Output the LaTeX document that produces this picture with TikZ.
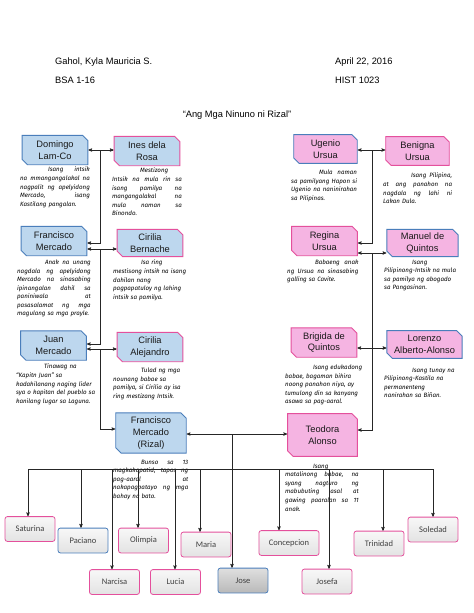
\documentclass[tikz,border=0pt]{standalone}
\usepackage{fontspec}
\setmainfont{Liberation Sans}
\newfontfamily\notefont{Fira Sans}
\newfontfamily\kidfont{Carlito}
\usetikzlibrary{arrows, positioning, shapes.misc}
\definecolor{boxblue}{RGB}{189,215,238}
\definecolor{lineblue}{RGB}{74,126,187}
\definecolor{boxpink}{RGB}{245,180,226}
\definecolor{linepink}{RGB}{228,80,156}
\newlength{\notew}
\tikzset{>=stealth',
    head/.style={font=\fontsize{12}{14}\selectfont, inner sep=0pt},
    person/.style={chamfered rectangle, chamfered rectangle corners={north east,south west},
        chamfered rectangle xsep=3.5pt, chamfered rectangle ysep=3.5pt, inner sep=0pt,
        line width=1.2pt, align=center, minimum width=85pt, minimum height=38pt,
        font=\fontsize{12}{15}\selectfont, text=black!90},
    bluebox/.style={person, fill=boxblue, draw=lineblue},
    pinkbox/.style={person, fill=boxpink, draw=linepink},
    pinkline/.style={draw=linepink},
    blueline/.style={draw=lineblue},
    note/.style={anchor=north west, inner sep=0pt, text=black, align=left,
        text width=#1, execute at begin node={\setlength{\notew}{#1}},
        font=\notefont\itshape\fontsize{8}{11}\selectfont},
    note/.default=120pt,
    kid/.style={rectangle, rounded corners=3pt, line width=1pt, draw=linepink,
        top color=gray!6, bottom color=gray!22, minimum width=64.5pt, minimum height=32pt,
        font=\kidfont\fontsize{11}{13}\selectfont, text=black!75},
    link/.style={line width=0.8pt, black!85}}
\newcommand{\ind}{\hspace*{36pt}}
\newcommand{\jl}[1]{{\spaceskip=0pt\xspaceskip=0pt\makebox[\notew][s]{#1}}}

\begin{document}
\begin{tikzpicture}[x=1.291pt,y=-1.291pt]
\fill[white] (0,0) rectangle (474,613);
\useasboundingbox (0,0) rectangle (474,613);

% header
\node[head, anchor=west] (student) at (55,62) {Gahol, Kyla Mauricia S.};
\node[head, anchor=west] (course)  at (55,80) {BSA 1-16};
\node[head, anchor=west] (date)    at (335,62) {April 22, 2016};
\node[head, anchor=west] (subject) at (335,80) {HIST 1023};
\node[head] (title) at (237,115) {“Ang Mga Ninuno ni Rizal”};

% father's side
\node[bluebox] (dom) at (55,150) {Domingo\\Lam-Co};
\node[bluebox, pinkline] (ines) at (147,151) {Ines dela\\Rosa};
\node[bluebox] (fran) at (54,241) {Francisco\\Mercado};
\node[bluebox, pinkline, minimum height=35pt] (ciriB) at (150,243) {Cirilia\\Bernache};
\node[bluebox] (juan) at (53.5,345.5) {Juan\\Mercado};
\node[bluebox, pinkline] (ciriA) at (150,347) {Cirilia\\Alejandro};
\node[bluebox, minimum width=91pt, minimum height=52pt] (rizal) at (151,433) {Francisco\\Mercado\\(Rizal)};

% mother's side
\node[pinkbox, blueline, minimum width=82pt, minimum height=37pt] (ugen) at (325.5,149) {Ugenio\\Ursua};
\node[pinkbox, minimum width=82pt, minimum height=37pt] (beni) at (417.5,151) {Benigna\\Ursua};
\node[pinkbox] (regi) at (324.5,241) {Regina\\Ursua};
\node[pinkbox, blueline, minimum width=92pt, minimum height=35pt] (manu) at (422.5,243) {Manuel de\\Quintos};
\node[pinkbox] (brig) at (324,342.5) {Brigida de\\Quintos};
\node[pinkbox, blueline, minimum width=97pt, minimum height=36pt] (lore) at (424.5,344.5) {Lorenzo\\Alberto-Alonso};
\node[pinkbox, minimum width=90pt, minimum height=55pt] (teo) at (322.5,435) {Teodora\\Alonso};

% notes
\node[note=90pt] (domtxt) at (20,167) {\jl{\ind Isang intsik}\\\jl{na mmangangalakal na}\\\jl{nagpalit ng apelyidong}\\\jl{Mercado, isang}\\Kastilang pangalan.};
\node[note=90pt] (inestxt) at (112,168) {\ind Mestizong\\\jl{Intsik na mula rin sa}\\\jl{isang pamilya na}\\\jl{mangangalakal na}\\\jl{mula naman sa}\\Binondo.};
\node[note=95pt] (frantxt) at (17,260) {\jl{\ind Anak na unang}\\\jl{nagdala ng apelyidong}\\\jl{Mercado na sinasabing}\\\jl{ipinangalan dahil sa}\\\jl{paniniwala at}\\\jl{pasasalamat ng mga}\\magulang sa mga prayle.};
\node[note] (ciriBtxt) at (113,260) {\ind Isa ring\\mestisong intsik na isang\\dahilan nang\\pagpapatuloy ng lahing\\intsik sa pamilya.};
\node[note] (juantxt) at (16,364) {\ind Tinawag na\\“Kapitn Juan” sa\\kadahilanang naging lider\\sya o kapitan del pueblo sa\\kanilang lugar sa Laguna.};
\node[note] (ciriAtxt) at (113,368) {\ind Tulad ng mga\\nounang babae sa\\pamilya, si Cirilia ay isa\\ring mestizang Intsik.};
\node[note=85pt] (ugentxt) at (291,170) {\jl{\ind Mula naman}\\\jl{sa pamilyang Hapon si}\\\jl{Ugenio na naninirahan}\\sa Pilipinas.};
\node[note=89pt] (benitxt) at (383,173) {\jl{\ind Isang Pilipina,}\\\jl{at ang panahon na}\\\jl{nagdala ng lahi ni}\\Lakan Dula.};
\node[note=92pt] (regitxt) at (287,260) {\jl{\ind Babaeng anak}\\\jl{ng Ursua na sinasabing}\\galling sa Cavite.};
\node[note] (manutxt) at (384,260) {\ind Isang\\Pilipinong-Intsik na mula\\sa pamilya ng abogado\\sa Pangasinan.};
\node[note] (brigtxt) at (285,365) {\ind Isang edukadong\\babae, bagaman bihira\\noong panahon niya, ay\\tumulong din sa kanyang\\asawa sa pag-aaral.};
\node[note] (loretxt) at (384,368) {\ind Isang tunay na\\Pilipinong-Kastila na\\permanenteng\\nanirahan sa Biñan.};
\node[note=97pt] (rizaltxt) at (113,460) {\jl{\ind Bunso sa 13}\\\jl{magkakapatid, tapos ng}\\\jl{pag-aaral at}\\\jl{nakapagpatayo ng mga}\\bahay na bato.};
\node[note=95pt] (teotxt) at (285,464) {\ind Isang\\\jl{matalinong babae, na}\\\jl{syang nagturo ng}\\\jl{mabubuting asal at}\\\jl{gawing paaralan sa 11}\\anak.};

% children
\node[kid] (sat) at (30,529) {Saturina};
\node[kid, draw=lineblue] (pac) at (83,540.5) {Paciano};
\node[kid] (nar) at (114.5,582) {Narcisa};
\node[kid] (oli) at (143.5,540.5) {Olimpia};
\node[kid] (luc) at (175.5,582) {Lucia};
\node[kid] (mar) at (206,544.5) {Maria};
\node[kid, draw=lineblue, top color=gray!25, bottom color=gray!55] (jose) at (243,580.5) {Jose};
\node[kid, minimum width=77.5pt] (con) at (289,543) {Concepcion};
\node[kid] (josf) at (327,581.5) {Josefa};
\node[kid] (tri) at (379,543.5) {Trinidad};
\node[kid] (sol) at (433,529.5) {Soledad};

% couples and descent
\coordinate (c1) at (100,150);
\coordinate (c2) at (100,249);
\coordinate (c3) at (100,349);
\draw[link, <->] (dom.east |- c1) -- (ines.west |- c1);
\draw[link, ->] (c1) |- (fran.east |- 0,243);
\draw[link, <->] (fran.east |- c2) -- (ciriB.west |- c2);
\draw[link, ->] (c2) |- (juan.east |- 0,344);
\draw[link, <->] (juan.east |- c3) -- (ciriA.west |- c3);
\draw[link, ->] (c3) |- (rizal.west |- 0,429);

\coordinate (d1) at (372,150);
\coordinate (d2) at (372,253);
\draw[link, <->] (ugen.east |- d1) -- (beni.west |- d1);
\draw[link, ->] (d1) |- (regi.east |- 0,243);
\draw[link, <->] (regi.east |- d2) -- (manu.west |- d2);
\draw[link, ->] (d2) |- (teo.east |- 0,430);
\draw[link, <->] (brig.east |- 0,348) -- (lore.west |- 0,348);

\coordinate (m) at (232,434);
\draw[link, <->] (rizal.east |- m) -- (teo.west |- m);
\draw[link, ->] (m) -- (m |- jose.north);

\coordinate (barL) at (28,469);
\coordinate (barR) at (433,469);
\draw[link] (barL) -- (barR);
\foreach \k/\x in {sat/28,pac/81,nar/112,oli/138,luc/175,mar/200,con/279,josf/329,tri/383,sol/433}
  \draw[link, ->] (\x,469) -- (\x,0 |- \k.north);
\end{tikzpicture}
\end{document}
